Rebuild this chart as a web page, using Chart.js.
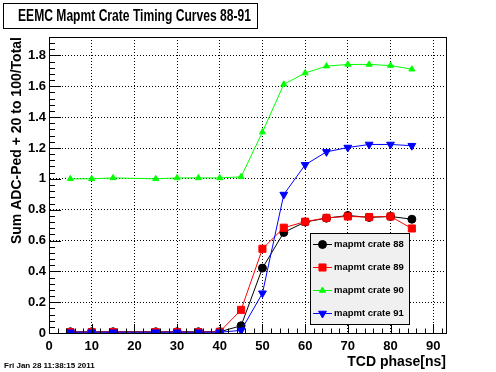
<!DOCTYPE html>
<html><head><meta charset="utf-8">
<script src="https://cdn.jsdelivr.net/npm/chart.js@4/dist/chart.umd.min.js"></script>
<style>html,body{margin:0;padding:0;background:#fff}canvas{display:block}</style>
</head><body>
<canvas id="c" width="496" height="372"></canvas>
<script>
const phases = [5,10,15,25,30,35,40,45,50,55,60,65,70,75,80,85];
const crate88 = [0.008,0.008,0.008,0.008,0.008,0.008,0.008,0.047,0.421,0.652,0.720,0.745,0.762,0.750,0.756,0.738];
const crate89 = [0.006,0.006,0.006,0.006,0.006,0.006,0.008,0.150,0.546,0.683,0.722,0.747,0.756,0.752,0.756,0.678];
const crate90 = [1.000,1.000,1.006,1.000,1.006,1.006,1.006,1.013,1.303,1.613,1.686,1.731,1.742,1.742,1.735,1.711];
const crate91 = [0.005,0.005,0.005,0.005,0.005,0.005,0.005,0.017,0.258,0.898,1.091,1.175,1.203,1.223,1.223,1.215];
const seriesNames = ['mapmt crate 88','mapmt crate 89','mapmt crate 90','mapmt crate 91'];
const titleText = 'EEMC Mapmt Crate Timing Curves 88-91';
const xTitle = 'TCD phase[ns]';
const yTitle = 'Sum ADC-Ped + 20 to 100/Total';
const dateText = 'Fri Jan 28 11:38:15 2011';

const FONT = '"Liberation Sans", Arial, Helvetica, sans-serif';
const styles = [
  {color:'#000000', pointStyle:'circle', radius:4, rotation:0},
  {color:'#ff0000', pointStyle:'rect', radius:5, rotation:0},
  {color:'#00ff00', pointStyle:'triangle', radius:3.5, rotation:0},
  {color:'#0000ff', pointStyle:'triangle', radius:4.5, rotation:180}
];
const allData = [crate88, crate89, crate90, crate91];
const datasets = allData.map((vals, i) => ({
  label: seriesNames[i],
  data: phases.map((p, j) => ({x: p, y: vals[j]})),
  borderColor: styles[i].color,
  backgroundColor: styles[i].color,
  pointBorderColor: styles[i].color,
  pointBackgroundColor: styles[i].color,
  pointStyle: styles[i].pointStyle,
  pointRadius: styles[i].radius,
  pointRotation: styles[i].rotation,
  pointBorderWidth: 1,
  borderWidth: 1,
  tension: 0,
  showLine: true,
  order: 4 - i
}));

const rootDecor = {
  id: 'rootDecor',
  afterDraw(chart) {
    const ctx = chart.ctx, a = chart.chartArea;
    const xs = chart.scales.x, ys = chart.scales.y;
    ctx.save();
    ctx.setLineDash([]);
    // frame
    ctx.strokeStyle = '#000'; ctx.lineWidth = 1;
    ctx.strokeRect(Math.round(a.left) + 0.5, Math.round(a.top) + 0.5, Math.round(a.right - a.left), Math.round(a.bottom - a.top));
    // x ticks (inward)
    ctx.beginPath();
    for (let v = 0; v <= xs.max + 1e-9; v += 2) {
      const px = Math.round(xs.getPixelForValue(v)) + 0.5;
      const len = (v % 10 === 0) ? 9 : 4.5;
      ctx.moveTo(px, a.bottom); ctx.lineTo(px, a.bottom - len);
    }
    // y ticks (inward)
    for (let k = 0; k * 0.04 <= ys.max + 1e-9; k++) {
      const py = Math.round(ys.getPixelForValue(k * 0.04)) + 0.5;
      const len = (k % 5 === 0) ? 12 : 6;
      ctx.moveTo(a.left, py); ctx.lineTo(a.left + len, py);
    }
    ctx.stroke();
    // title box
    ctx.fillStyle = '#fff';
    ctx.fillRect(3.5, 3.5, 254, 25);
    ctx.strokeRect(3.5, 3.5, 254, 25);
    ctx.font = 'bold 17px ' + FONT;
    const tw = ctx.measureText(titleText).width;
    const sx = 233 / tw;
    ctx.fillStyle = '#000';
    ctx.textBaseline = 'middle'; ctx.textAlign = 'left';
    ctx.save();
    ctx.translate(18, 16.5);
    ctx.scale(sx, 1);
    ctx.fillText(titleText, 0, 0);
    ctx.restore();
    // date
    ctx.font = 'bold 8px ' + FONT;
    ctx.fillText(dateText, 4, 366);
    // legend
    const lx = 310.5, ly = 233.5, lw = 99, lh = 91;
    ctx.fillStyle = '#f0f0f0';
    ctx.fillRect(lx, ly, lw, lh);
    ctx.strokeStyle = '#000';
    ctx.strokeRect(lx, ly, lw, lh);
    ctx.font = 'bold 9.5px ' + FONT;
    chart.data.datasets.forEach((ds, i) => {
      const y = 244 + i * 23;
      ctx.strokeStyle = ds.borderColor; ctx.fillStyle = ds.backgroundColor;
      ctx.lineWidth = 1;
      ctx.beginPath(); ctx.moveTo(313, Math.round(y) + 0.5); ctx.lineTo(332, Math.round(y) + 0.5); ctx.stroke();
      Chart.helpers.drawPoint(ctx, {pointStyle: ds.pointStyle, radius: ds.pointRadius, rotation: ds.pointRotation, borderWidth: 1}, 322.5, Math.round(y) + 0.5);
      ctx.fillStyle = '#000';
      ctx.fillText(ds.label, 334, y + 0.5);
    });
    ctx.restore();
  }
};

new Chart(document.getElementById('c'), {
  type: 'scatter',
  data: { datasets },
  options: {
    responsive: false,
    animation: false,
    devicePixelRatio: 1,
    layout: { padding: { left: 0, top: 37, right: 50, bottom: 0 } },
    plugins: { legend: { display: false }, tooltip: { enabled: false }, title: { display: false } },
    scales: {
      x: {
        type: 'linear', min: 0, max: 93,
        afterFit(s) { s.height = 39; },
        grid: { color: '#000', lineWidth: 1, drawTicks: false },
        border: { display: true, color: '#000', width: 1, dash: [1, 2] },
        ticks: { stepSize: 10, includeBounds: false, padding: 6, color: '#000', font: { family: FONT, size: 13, weight: 'bold' } },
        title: { display: true, text: xTitle, align: 'end', color: '#000', padding: { top: 0, bottom: 1 }, font: { family: FONT, size: 14, weight: 'bold' } }
      },
      y: {
        type: 'linear', min: 0, max: 1.92,
        afterFit(s) { s.width = 49; },
        grid: { color: '#000', lineWidth: 1, drawTicks: false },
        border: { display: true, color: '#000', width: 1, dash: [1, 2] },
        ticks: { stepSize: 0.2, includeBounds: false, padding: 3, color: '#000', font: { family: FONT, size: 13, weight: 'bold' },
                 callback: v => (Math.round(v * 10) / 10).toString() },
        title: { display: true, text: yTitle, align: 'end', color: '#000', padding: { top: 9, bottom: 0 }, font: { family: FONT, size: 14, weight: 'bold' } }
      }
    }
  },
  plugins: [rootDecor]
});
</script>
</body></html>
